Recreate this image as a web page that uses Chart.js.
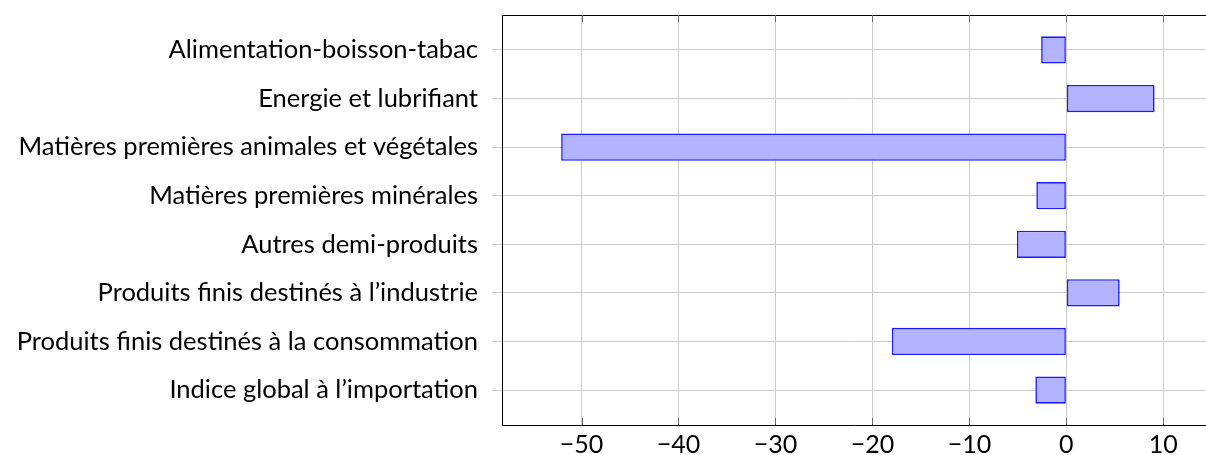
<!DOCTYPE html>
<html>
<head>
<meta charset="utf-8">
<script src="https://cdn.jsdelivr.net/npm/chart.js@4"></script>
<style>
  html, body { margin: 0; padding: 0; background: #fff; }
  #wrap { width: 1206px; height: 455px; }
</style>
</head>
<body>
<div id="wrap"><canvas id="chart" width="1206" height="455"></canvas></div>
<script>
'use strict';

let categories = [
  'Alimentation-boisson-tabac',
  'Energie et lubrifiant',
  'Matières premières animales et végétales',
  'Matières premières minérales',
  'Autres demi-produits',
  'Produits finis destinés à l\u2019industrie',
  'Produits finis destinés à la consommation',
  'Indice global à l\u2019importation'
];
let values = [-2.6, 9.1, -52.1, -3.1, -5.1, 5.5, -18.0, -3.2];
let xTicks = [-50, -40, -30, -20, -10, 0, 10];

let canvasElem = document.getElementById('chart');

// frame + small inner ticks like pgfplots
let framePlugin = {
  id: 'frame',
  afterDraw(chart) {
    let ctx = chart.ctx;
    let a = chart.chartArea;
    let xs = chart.scales.x;
    ctx.save();
    ctx.strokeStyle = '#000';
    ctx.lineWidth = 1;
    ctx.beginPath();
    ctx.moveTo(a.left, a.top + 0.5);
    ctx.lineTo(a.right, a.top + 0.5);
    ctx.stroke();
    ctx.strokeStyle = '#666';
    for (let t of xTicks) {
      let px = Math.round(xs.getPixelForValue(t)) + 0.5;
      ctx.beginPath();
      ctx.moveTo(px, a.top);
      ctx.lineTo(px, a.top + 7);
      ctx.moveTo(px, a.bottom);
      ctx.lineTo(px, a.bottom - 7);
      ctx.stroke();
    }
    ctx.restore();
  }
};

function renderChart() {
  let points = values.map((v, i) => ({ x: v, y: i }));

  Chart.defaults.font.family = 'Lato, "DejaVu Sans", sans-serif';
  Chart.defaults.color = '#000';

  let chartObj = {
    type: 'bar',
    data: {
      datasets: [{
        data: points,
        backgroundColor: '#b3b3ff',
        borderColor: '#1a1aff',
        borderWidth: 1.6,
        borderSkipped: false,
        barPercentage: 0.56,
        categoryPercentage: 1
      }]
    },
    options: {
      indexAxis: 'y',
      responsive: false,
      animation: false,
      layout: { padding: { top: 15, right: 0, left: 0, bottom: 0 } },
      scales: {
        x: {
          type: 'linear',
          min: -58.2,
          max: 14.4,
          afterBuildTicks: (axis) => { axis.ticks = xTicks.map(v => ({ value: v })); },
          afterFit: (scale) => { scale.height = 30; scale.paddingLeft = 0; scale.paddingRight = 0; },
          grid: { color: '#cccccc', drawTicks: false },
          border: { color: '#000', width: 1 },
          ticks: {
            padding: 5,
            font: { size: 25 },
            callback: (v) => v < 0 ? '\u2212' + Math.abs(v) : String(v)
          }
        },
        y: {
          type: 'linear',
          reverse: true,
          offset: false,
          min: -0.72,
          max: 7.72,
          afterBuildTicks: (axis) => { axis.ticks = categories.map((c, i) => ({ value: i })); },
          afterFit: (scale) => { scale.width = 502; scale.paddingTop = 0; scale.paddingBottom = 0; },
          grid: { color: '#cccccc', tickLength: 10, offset: false },
          border: { color: '#000', width: 1 },
          ticks: {
            padding: 14,
            font: { size: 25.5 },
            callback: (v) => categories[v]
          }
        }
      },
      plugins: {
        legend: { display: false },
        tooltip: { enabled: false }
      }
    },
    plugins: [framePlugin]
  };

  new Chart(canvasElem, chartObj);
}

renderChart();
</script>
</body>
</html>
